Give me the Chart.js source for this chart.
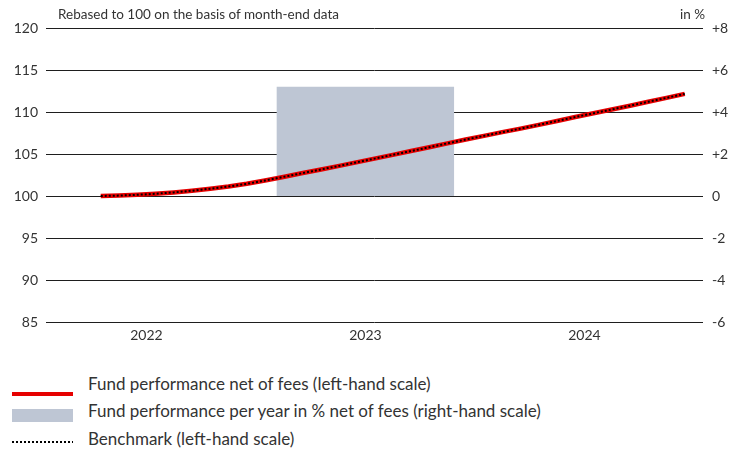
<!DOCTYPE html>
<html>
<head>
<meta charset="utf-8">
<script src="https://cdn.jsdelivr.net/npm/chart.js@4/dist/chart.umd.min.js"></script>
<style>
  body { margin: 0; background: #fff; font-family: Lato, sans-serif; color: #333; }
  #wrap { position: relative; width: 742px; height: 452px; }
  #chart { position: absolute; left: 0; top: 0; }
  .note { position: absolute; top: 6px; font-size: 13.5px; color: #333; white-space: nowrap; }
  .legend { position: absolute; left: 12px; font-size: 17px; color: #333; white-space: nowrap; }
  .legend span.key { position: absolute; left: 0; width: 61px; }
  .legend span.txt { position: absolute; left: 76px; top: 0; }
</style>
</head>
<body>
<div id="wrap">
  <canvas id="chart" width="742" height="346"></canvas>
  <div class="note" style="left:58px">Rebased to 100 on the basis of month-end data</div>
  <div class="note" style="right:37px">in %</div>
  <div class="legend" style="top:373px"><span class="key" style="top:19px;height:4px;background:#e60000"></span><span class="txt">Fund performance net of fees (left-hand scale)</span></div>
  <div class="legend" style="top:400px"><span class="key" style="top:9px;height:13px;background:#bec6d4"></span><span class="txt">Fund performance per year in % net of fees (right-hand scale)</span></div>
  <div class="legend" style="top:428px"><span class="key" style="top:13px;height:2px;background:repeating-linear-gradient(90deg,#000 0 2px,transparent 2px 4px)"></span><span class="txt">Benchmark (left-hand scale)</span></div>
</div>
<script>
// month-end dates (Mar 2022 .. Nov 2024)
var monthEnds = ['2022-03','2022-04','2022-05','2022-06','2022-07','2022-08','2022-09','2022-10','2022-11','2022-12',
  '2023-01','2023-02','2023-03','2023-04','2023-05','2023-06','2023-07','2023-08','2023-09','2023-10','2023-11','2023-12',
  '2024-01','2024-02','2024-03','2024-04','2024-05','2024-06','2024-07','2024-08','2024-09','2024-10','2024-11'];

var fundValues = [100.00, 100.05, 100.14, 100.27, 100.43, 100.63, 100.87, 101.12, 101.45, 101.84,
  102.27, 102.70, 103.13, 103.56, 104.00, 104.45, 104.90, 105.35, 105.80, 106.27, 106.72, 107.16,
  107.60, 108.02, 108.47, 108.93, 109.40, 109.85, 110.30, 110.75, 111.22, 111.68, 112.16];

var benchmarkValues = [100.00, 100.05, 100.14, 100.27, 100.43, 100.63, 100.87, 101.12, 101.45, 101.84,
  102.27, 102.70, 103.13, 103.56, 104.00, 104.45, 104.90, 105.35, 105.80, 106.27, 106.72, 107.16,
  107.60, 108.02, 108.47, 108.93, 109.40, 109.85, 110.30, 110.75, 111.22, 111.68, 112.16];

var years = ['2022', '2023', '2024'];
var yearlyPerf = [null, 5.2, null];   // in %, right-hand scale

var leftTicks = [85, 90, 95, 100, 105, 110, 115, 120];
var rightTicks = [-6, -4, -2, 0, 2, 4, 6, 8];

// months counted from the start of 2022
function monthPos(s) {
  var p = s.split('-');
  return (parseInt(p[0]) - 2022) * 12 + parseInt(p[1]);
}
function yearPos(i) { return i * 12 + 5.5; }

var fundData = monthEnds.map(function (m, i) { return { x: monthPos(m), y: fundValues[i] }; });
var benchData = monthEnds.map(function (m, i) { return { x: monthPos(m), y: benchmarkValues[i] }; });
var barData = [];
years.forEach(function (y, i) { if (yearlyPerf[i] !== null) barData.push({ x: yearPos(i), y: yearlyPerf[i] }); });

Chart.defaults.font.family = 'Lato, sans-serif';
Chart.defaults.font.size = 14;
Chart.defaults.color = '#333';

var ctx = document.getElementById('chart').getContext('2d');
var chart = new Chart(ctx, {
    type: 'line',
    data: {
        datasets: [{
            label: 'Benchmark (left-hand scale)',
            data: benchData,
            borderColor: '#000',
            borderWidth: 2,
            borderDash: [2, 2],
            pointRadius: 0,
            yAxisID: 'y',
            order: 0
        }, {
            label: 'Fund performance net of fees (left-hand scale)',
            data: fundData,
            borderColor: '#e60000',
            borderWidth: 4.5,
            pointRadius: 0,
            yAxisID: 'y',
            order: 1
        }, {
            type: 'bar',
            label: 'Fund performance per year in % net of fees (right-hand scale)',
            data: barData,
            backgroundColor: '#bec6d4',
            barPercentage: 0.81,
            categoryPercentage: 1,
            yAxisID: 'y2',
            order: 2
        }]
    },
    options: {
      responsive: false,
      animation: false,
      layout: { padding: { top: 28, left: 0, right: 0, bottom: 0 } },
      plugins: { legend: { display: false }, tooltip: { enabled: false } },
      scales: {
        x: {
          type: 'linear',
          min: 0,
          max: 36,
          offset: false,
          grid: { display: false, drawTicks: false, offset: false },
          border: { display: false },
          afterBuildTicks: function (scale) {
            scale.ticks = years.map(function (y, i) { return { value: yearPos(i) }; });
          },
          afterFit: function (scale) { scale.height = 24; },
          ticks: {
            padding: 5,
            maxRotation: 0,
            autoSkip: false,
            callback: function (v, i) { return years[i]; }
          }
        },
        y: {
          position: 'left',
          min: 85,
          max: 120,
          afterBuildTicks: function (scale) {
            scale.ticks = leftTicks.map(function (v) { return { value: v }; });
          },
          afterFit: function (scale) { scale.width = 46; },
          grid: { color: '#1e1e1e', lineWidth: 1, drawTicks: false },
          border: { display: false },
          ticks: { padding: 8 }
        },
        y2: {
          position: 'right',
          min: -6,
          max: 8,
          afterBuildTicks: function (scale) {
            scale.ticks = rightTicks.map(function (v) { return { value: v }; });
          },
          afterFit: function (scale) { scale.width = 39; },
          grid: { display: false, drawTicks: false },
          border: { display: false },
          ticks: {
            padding: 9,
            callback: function (v) { return v > 0 ? '+' + v : String(v); }
          }
        }
      }
    }
});
</script>
</body>
</html>
